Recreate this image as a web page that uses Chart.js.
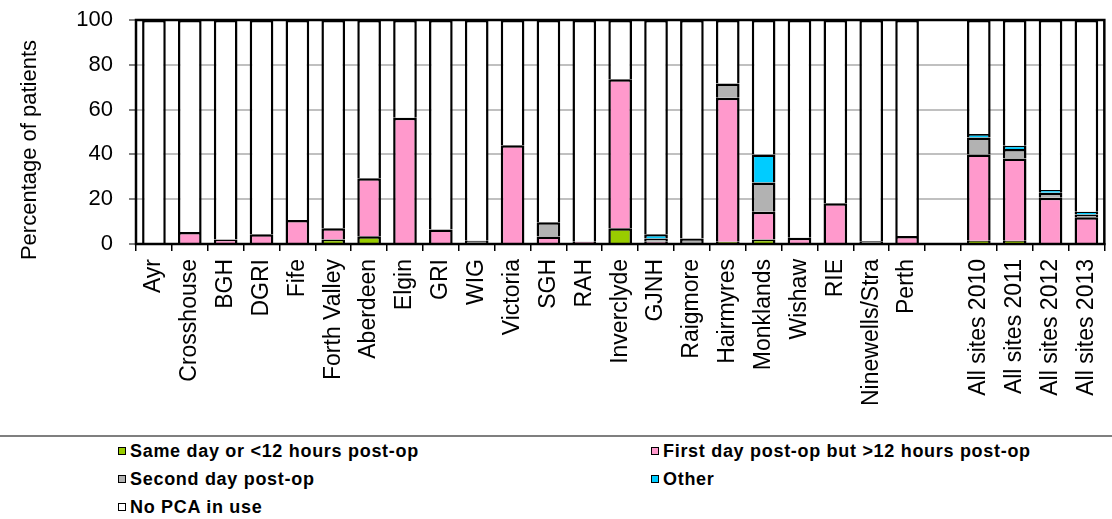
<!DOCTYPE html>
<html>
<head>
<meta charset="utf-8">
<script src="https://cdn.jsdelivr.net/npm/chart.js@4"></script>
<style>
    html, body { margin: 0; padding: 0; background: #fff; overflow: hidden; }
    body { width: 1112px; height: 519px; position: relative; font-family: 'Liberation Sans', Arial, sans-serif; }
    #chartBox { position: absolute; left: 0; top: 0; width: 1122px; height: 436px; }
    #legendLine { position: absolute; left: 0; top: 435px; width: 1112px; height: 0; border-top: 2px solid #7f7f7f; }
    #legend { position: absolute; left: 118px; top: 437px; display: grid; grid-template-columns: 533px auto; grid-auto-rows: 28px; }
    .item { display: flex; align-items: center; font-weight: bold; font-size: 18px; letter-spacing: 0.7px; color: #000; white-space: nowrap; }
    .box { width: 6px; height: 6px; border: 1.5px solid #000; margin-right: 4px; }
</style>
</head>
<body>
<div id="chartBox"><canvas id="pcaChart" width="1122" height="436"></canvas></div>
<div id="legendLine"></div>
<div id="legend"></div>
<script>
// 카테고리 (빈 칸은 사이트와 전체 평균 사이의 간격)
const categories = ['Ayr', 'Crosshouse', 'BGH', 'DGRI', 'Fife', 'Forth Valley', 'Aberdeen', 'Elgin', 'GRI', 'WIG',
    'Victoria', 'SGH', 'RAH', 'Inverclyde', 'GJNH', 'Raigmore', 'Hairmyres', 'Monklands', 'Wishaw', 'RIE',
    'Ninewells/Stra', 'Perth', '', 'All sites 2010', 'All sites 2011', 'All sites 2012', 'All sites 2013'];

const seriesLabels = ['Same day or <12 hours post-op', 'First day post-op but >12 hours post-op',
    'Second day post-op', 'Other', 'No PCA in use'];

// 값 (%)
const sameDay =   [0, 0, 0, 0, 0, 2, 3.5, 0, 0, 0, 0, 0, 0, 7, 0, 0, 1, 2, 0, 0, 0, 0, null, 1.5, 1.5, 0.5, 0];
const firstDay =  [0, 5.4, 2, 4.3, 10.7, 5, 25.8, 56.4, 6.5, 0, 44.1, 3.3, 1, 66.5, 1, 0, 64.3, 12.4, 2.8, 18.2, 0, 3.6, null, 38.5, 36.7, 20.2, 11.9];
const secondDay = [0, 0, 0, 0, 0, 0, 0, 0, 0, 1.5, 0, 6.4, 0, 0, 1.5, 2.5, 6.4, 13, 0, 0, 1.2, 0, null, 7.5, 4.2, 2.2, 1.3];
const otherTime = [0, 0, 0, 0, 0, 0, 0, 0, 0, 0, 0, 0, 0, 0, 1.8, 0, 0, 12.5, 0, 0, 0, 0, null, 1.6, 1.5, 1.2, 1.2];
const noPca =     [100, 94.6, 98, 95.7, 89.3, 93, 70.7, 43.6, 93.5, 98.5, 55.9, 90.3, 99, 26.5, 95.7, 97.5, 28.3, 60.1, 97.2, 81.8, 98.8, 96.4, null, 50.9, 56.1, 75.9, 85.6];

const yTickValues = [0, 20, 40, 60, 80, 100];
const yTitle = 'Percentage of patients';

const seriesColors = ['#99cc00', '#ff99cc', '#b2b2b2', '#00ccff', '#ffffff'];
const FONT = "'Liberation Sans', Arial, sans-serif";

document.addEventListener('DOMContentLoaded', function() {
    createPcaChart();
});

function createPcaChart() {
    const ctx = document.getElementById('pcaChart');
    if (!ctx) return;

    const values = [sameDay, firstDay, secondDay, otherTime, noPca];
    const datasets = values.map((v, i) => ({
        label: seriesLabels[i],
        data: v,
        backgroundColor: seriesColors[i],
        borderColor: '#000',
        borderWidth: 2.5,
        categoryPercentage: 1,
        barPercentage: 0.66
    }));

    // 플롯 테두리 + 세로 축 제목
    const framePlugin = {
        id: 'frame',
        afterDatasetsDraw(chart) {
            const a = chart.chartArea;
            const c = chart.ctx;
            c.save();
            c.strokeStyle = '#000';
            c.lineWidth = 2.5;
            c.strokeRect(a.left, a.top, a.right - a.left, a.bottom - a.top);
            c.translate(30, 150);
            c.rotate(-Math.PI / 2);
            c.fillStyle = '#000';
            c.font = '22px ' + FONT;
            c.textAlign = 'center';
            c.textBaseline = 'middle';
            c.fillText(yTitle, 0, 0);
            c.restore();
        }
    };

    const chart = new Chart(ctx, {
        type: 'bar',
        data: { labels: categories, datasets: datasets },
        options: {
            responsive: false,
            animation: false,
            layout: { padding: { top: 20, right: 0, bottom: 0, left: 0 } },
            plugins: {
                legend: { display: false },
                tooltip: { enabled: false }
            },
            scales: {
                x: {
                    stacked: true,
                    afterFit: s => { s.height = 192; },
                    grid: { offset: true, drawOnChartArea: false, drawTicks: true, tickLength: 7, color: '#000', lineWidth: 1.5 },
                    border: { color: '#000', width: 2 },
                    ticks: {
                        autoSkip: false, minRotation: 90, maxRotation: 90, padding: 8,
                        color: '#000', font: { size: 23, family: FONT }
                    }
                },
                y: {
                    stacked: true,
                    min: 0,
                    max: 100,
                    afterBuildTicks: s => { s.ticks = yTickValues.map(v => ({ value: v })); },
                    afterFit: s => { s.width = 136; s.paddingTop = 0; s.paddingBottom = 0; },
                    grid: { color: '#c0c0c0', lineWidth: 2, tickLength: 7, tickColor: '#808080' },
                    border: { color: '#000', width: 2 },
                    ticks: { padding: 16, color: '#000', font: { size: 22, family: FONT } }
                }
            }
        },
        plugins: [framePlugin]
    });

    // HTML 범례
    const legend = document.getElementById('legend');
    chart.data.datasets.forEach(ds => {
        const item = document.createElement('div');
        item.className = 'item';
        const box = document.createElement('span');
        box.className = 'box';
        box.style.background = ds.backgroundColor;
        item.appendChild(box);
        item.appendChild(document.createTextNode(ds.label));
        legend.appendChild(item);
    });
}
</script>
</body>
</html>
